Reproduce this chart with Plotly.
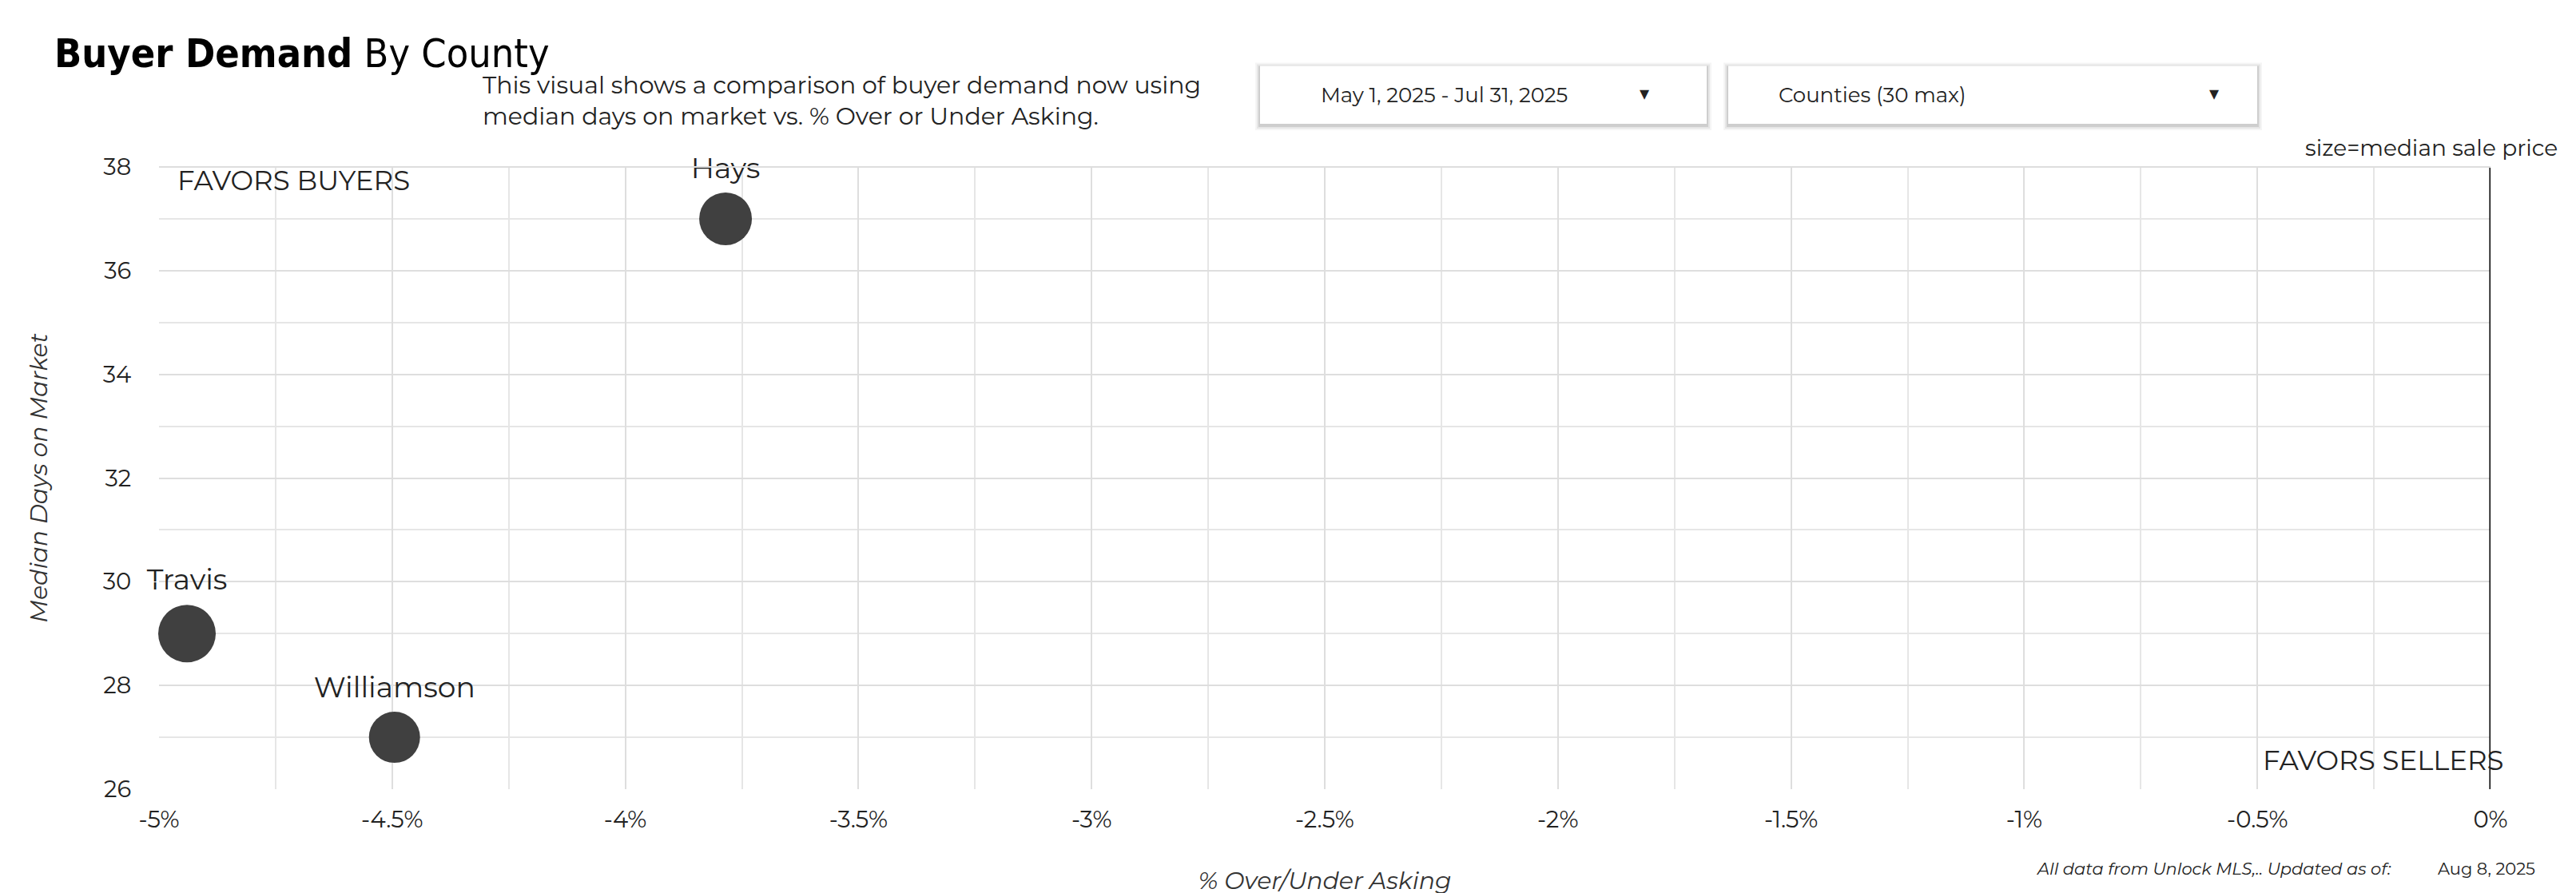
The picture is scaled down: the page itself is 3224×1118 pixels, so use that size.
import plotly.graph_objects as go

counties = ["Hays", "Travis", "Williamson"]
pct_over_under = [-3.785, -4.94, -4.495]
median_dom = [37, 29, 27]
marker_px = [66, 72, 64]

x_ticks = [-5, -4.5, -4, -3.5, -3, -2.5, -2, -1.5, -1, -0.5, 0]
x_labels = ["-5%", "-4.5%", "-4%", "-3.5%", "-3%", "-2.5%", "-2%", "-1.5%", "-1%", "-0.5%", "0%"]
y_ticks = [26, 28, 30, 32, 34, 36, 38]

W, H = 3224, 1118
L, R, T, B = 191, 3109, 201, 995

def px(x):
    return (x - L) / (R - L)

def py(y):
    return (B - y) / (B - T)

FONT = "Montserrat, Lato, Open Sans, sans-serif"

fig = go.Figure(
    go.Scatter(
        x=pct_over_under, y=median_dom, text=counties, mode="markers+text",
        textposition="top center",
        textfont=dict(size=36, color="#222", family=FONT),
        marker=dict(size=marker_px, color="#404040", opacity=1, line=dict(width=0)),
        cliponaxis=False, hoverinfo="text",
    )
)

fig.update_xaxes(
    range=[-5, 0], tickvals=x_ticks, ticktext=x_labels,
    showgrid=True, gridcolor="#dedede", gridwidth=2,
    minor=dict(dtick=0.25, showgrid=True, gridcolor="#e6e6e6", gridwidth=2),
    zeroline=False, showline=False, ticks="outside", ticklen=12, tickcolor="white",
    tickfont=dict(size=29, color="#222", family=FONT),
    title=dict(text="<i>% Over/Under Asking</i>", font=dict(size=30, color="#333", family=FONT), standoff=50),
)
fig.update_yaxes(
    range=[26, 38], tickvals=y_ticks,
    showgrid=True, gridcolor="#dedede", gridwidth=2,
    minor=dict(dtick=1, showgrid=True, gridcolor="#e6e6e6", gridwidth=2),
    zeroline=False, showline=False, ticks="outside", ticklen=28, tickcolor="white",
    tickfont=dict(size=29, color="#222", family=FONT),
    title=dict(text="<i>Median Days on Market</i>", font=dict(size=30, color="#333", family=FONT), standoff=60),
)

shapes = [
    dict(type="line", xref="x", yref="paper", x0=0, x1=0, y0=0, y1=1, line=dict(color="black", width=3)),
    dict(type="line", xref="paper", yref="paper", x0=0, x1=1, y0=1, y1=1, line=dict(color="#dedede", width=2)),
]
# dropdown boxes with soft shadow
for x0, x1 in [(1569, 2128), (2155, 2817)]:
    for grow, alpha in [(6, 0.04), (4, 0.06), (2, 0.10)]:
        shapes.append(dict(type="rect", xref="paper", yref="paper", x0=px(x0 - grow), x1=px(x1 + grow),
                           y0=py(146 + grow + 2), y1=py(72 - grow + 2),
                           line=dict(width=0), fillcolor=f"rgba(0,0,0,{alpha})", layer="below"))
    shapes.append(dict(type="rect", xref="paper", yref="paper", x0=px(x0), x1=px(x1), y0=py(146), y1=py(72),
                       line=dict(width=0), fillcolor="white", layer="below"))

def ann(text, x, y, size, xanchor="left", yanchor="middle", color="#222", family=FONT):
    return dict(text=text, xref="paper", yref="paper", x=px(x), y=py(y), xanchor=xanchor, yanchor=yanchor,
                showarrow=False, font=dict(size=size, color=color, family=family), align="left")

annotations = [
    ann("<b>Buyer Demand</b> By County", 58, 56, 50, color="black",
        family="DejaVu Sans Condensed, Liberation Sans Narrow, sans-serif"),
    ann("This visual shows a comparison of buyer demand now using<br>median days on market vs. % Over or Under Asking.",
        594, 116, 30),
    ann("May 1, 2025 - Jul 31, 2025", 1643, 109, 26),
    ann("▾", 2042, 107, 24),
    ann("Counties (30 max)", 2216, 109, 26),
    ann("▾", 2755, 107, 24),
    ann("size=median sale price", 3195, 177, 28, xanchor="right"),
    ann("FAVORS BUYERS", 212, 218, 34),
    ann("FAVORS SELLERS", 3127, 958, 34, xanchor="right"),
    ann("<i>All data from Unlock MLS,.. Updated as of:</i>", 2987, 1096, 21, xanchor="right"),
    ann("Aug 8, 2025", 3041, 1096, 21),
]

fig.update_layout(
    width=W, height=H,
    margin=dict(l=L, r=W - R, t=T, b=H - B),
    paper_bgcolor="white", plot_bgcolor="white",
    showlegend=False, shapes=shapes, annotations=annotations,
)

fig.write_html("out.html")
